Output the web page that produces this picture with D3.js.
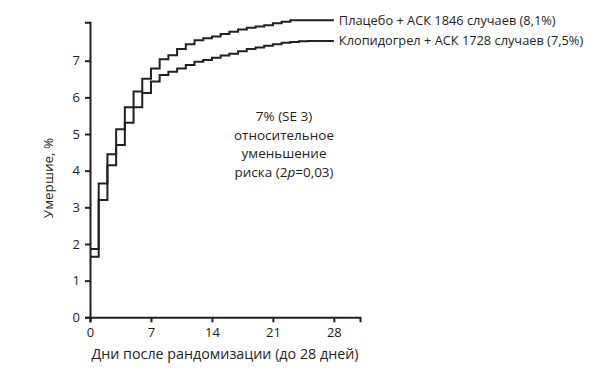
<!DOCTYPE html>
<html>
<head>
<meta charset="utf-8">
<script src="https://cdn.jsdelivr.net/npm/d3@7.9.0/dist/d3.min.js"></script>
<style>
  body { margin: 0; background: #fff; }
  svg text { font-family: "Open Sans", "Noto Sans", sans-serif; fill: #231f20; }
</style>
</head>
<body>
<div id="chart"></div>
<script>
// ===============================
// DATA
// ===============================
const days = [0, 1, 2, 3, 4, 5, 6, 7, 8, 9, 10, 11, 12, 13, 14, 15, 16, 17, 18, 19, 20, 21, 22, 23, 24, 25, 26, 27, 28];
const placebo = [1.86, 3.65, 4.45, 5.13, 5.73, 6.16, 6.51, 6.79, 7.04, 7.15, 7.32, 7.45, 7.56, 7.61, 7.66, 7.73, 7.79, 7.85, 7.90, 7.93, 7.97, 8.02, 8.06, 8.1, 8.1, 8.1, 8.1, 8.1, 8.1];
const clopidogrel = [1.65, 3.2, 4.15, 4.70, 5.31, 5.73, 6.12, 6.43, 6.61, 6.70, 6.79, 6.88, 6.97, 7.02, 7.08, 7.14, 7.19, 7.26, 7.32, 7.36, 7.41, 7.45, 7.49, 7.51, 7.53, 7.54, 7.54, 7.54, 7.54];
const seriesLabels = ["Плацебо + АСК 1846 случаев (8,1%)", "Клопидогрел + АСК 1728 случаев (7,5%)"];
const xTicks = [0, 7, 14, 21, 28];
const yTicks = [0, 1, 2, 3, 4, 5, 6, 7];
const xTitle = "Дни после рандомизации (до 28 дней)";
const yTitle = "Умершие, %";
const noteLines = ["7% (SE 3)", "относительное", "уменьшение"];

// ===============================
// SETUP
// ===============================
const width = 616, height = 380;
const ink = "#231f20";

const svg = d3.select("#chart").append("svg")
  .attr("width", width)
  .attr("height", height);

const x = d3.scaleLinear().domain([0, 31]).range([90, 360]);
const y = d3.scaleLinear().domain([0, 8.05]).range([317.3, 22.2]);

// axes
const yAxis = svg.append("g")
  .attr("transform", `translate(${x(0)},0)`)
  .call(d3.axisLeft(y).tickValues(yTicks).tickSizeOuter(0).tickSize(5).tickPadding(5));

const xAxis = svg.append("g")
  .attr("transform", `translate(0,${y(0)})`)
  .call(d3.axisBottom(x).tickValues(xTicks).tickSizeOuter(0).tickSize(5).tickPadding(5));

[xAxis, yAxis].forEach(g => {
  g.select(".domain").attr("stroke", ink).attr("stroke-width", 2);
  g.selectAll(".tick line").attr("stroke", ink).attr("stroke-width", 2);
  g.selectAll(".tick text")
    .attr("fill", ink)
    .style("font-family", '"Open Sans", sans-serif')
    .style("font-size", "13px");
});

// axis titles
svg.append("text")
  .attr("x", 225).attr("y", 359)
  .attr("text-anchor", "middle")
  .style("font-size", "14.3px")
  .text(xTitle);

svg.append("text")
  .attr("transform", `translate(53,${178}) rotate(-90)`)
  .attr("text-anchor", "middle")
  .style("font-size", "13.5px")
  .text(yTitle);

// step curves
const line = d3.line()
  .x(d => x(d[0]))
  .y(d => y(d[1]))
  .curve(d3.curveStepAfter);

[placebo, clopidogrel].forEach((vals, i) => {
  const pts = days.map((d, k) => [d, vals[k]]);
  svg.append("path")
    .datum(pts)
    .attr("fill", "none")
    .attr("stroke", ink)
    .attr("stroke-width", 2)
    .attr("d", line);

  svg.append("text")
    .attr("x", x(28) + 5)
    .attr("y", y(vals[vals.length - 1]))
    .attr("dy", "0.35em")
    .style("font-size", "12.8px")
    .text(seriesLabels[i]);
});

// annotation
const note = svg.append("text")
  .attr("text-anchor", "middle")
  .style("font-size", "13.5px");

noteLines.forEach((t, i) => {
  note.append("tspan").attr("x", 284).attr("y", 121 + i * 18.5).text(t);
});
const last = note.append("tspan").attr("x", 284).attr("y", 121 + 3 * 18.5);
last.append("tspan").text("риска (2");
last.append("tspan").style("font-style", "italic").text("p");
last.append("tspan").text("=0,03)");
</script>
</body>
</html>
